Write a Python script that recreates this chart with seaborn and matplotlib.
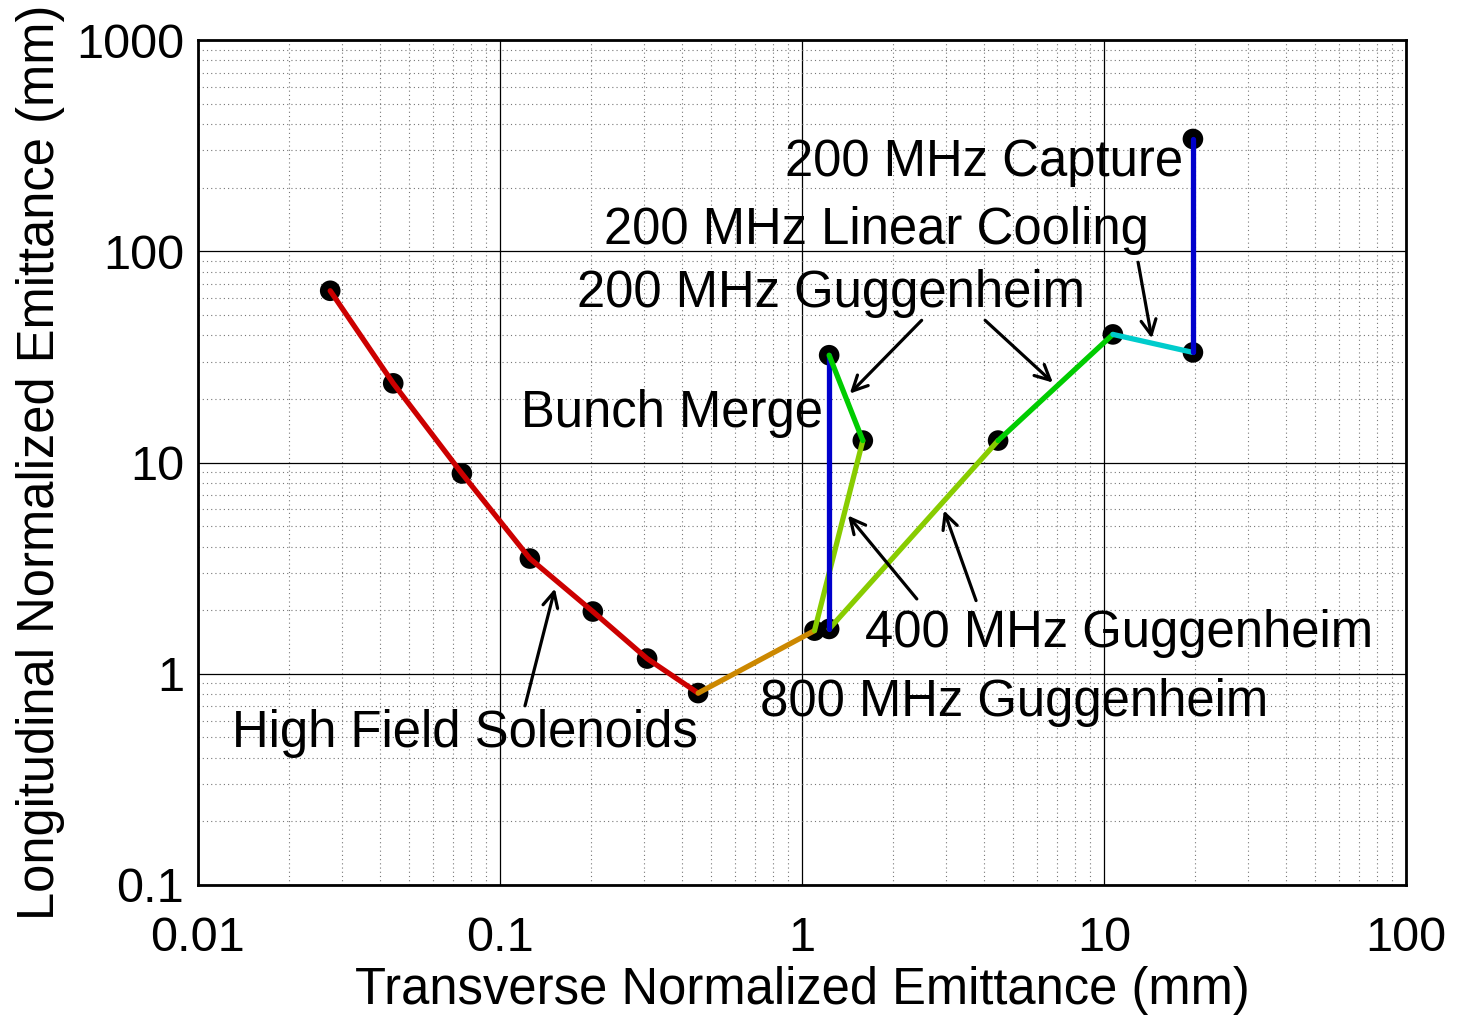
import numpy as np
import pandas as pd
import matplotlib
matplotlib.use("Agg")
import matplotlib.pyplot as plt
import seaborn as sns
from matplotlib.ticker import FixedLocator, FixedFormatter, LogLocator, NullFormatter

sns.set_theme(style="white")
plt.rcParams['font.family'] = ['Liberation Sans', 'DejaVu Sans']
plt.rcParams['text.color'] = 'black'
plt.rcParams['axes.labelcolor'] = 'black'
plt.rcParams['xtick.color'] = 'black'
plt.rcParams['ytick.color'] = 'black'

# ---- data (transverse, longitudinal emittance in mm) ----
red_x = [0.0274, 0.0443, 0.0748, 0.1256, 0.203, 0.307, 0.453]
red_y = [65.0, 23.7, 8.87, 3.51, 1.97, 1.18, 0.81]
orange_x = [0.453, 1.10]
orange_y = [0.81, 1.60]
yg1_x = [1.10, 1.59]
yg1_y = [1.60, 12.7]
yg2_x = [1.23, 4.46]
yg2_y = [1.63, 12.7]
blue1_x = [1.23, 1.23]
blue1_y = [1.63, 32.2]
green1_x = [1.23, 1.59]
green1_y = [32.2, 12.7]
green2_x = [4.46, 10.7]
green2_y = [12.7, 40.4]
cyan_x = [10.7, 19.7]
cyan_y = [40.4, 33.2]
blue2_x = [19.7, 19.7]
blue2_y = [33.2, 340.0]

pts_x = red_x + [1.10, 1.23, 1.23, 1.59, 4.46, 10.7, 19.7, 19.7]
pts_y = red_y + [1.60, 1.63, 32.2, 12.7, 12.7, 40.4, 33.2, 340.0]

segments = [
    (red_x, red_y, "#cc0000"),
    (orange_x, orange_y, "#cc8800"),
    (yg1_x, yg1_y, "#88cc00"),
    (yg2_x, yg2_y, "#88cc00"),
    (blue1_x, blue1_y, "#0000cc"),
    (green1_x, green1_y, "#00cc00"),
    (green2_x, green2_y, "#00cc00"),
    (cyan_x, cyan_y, "#00cccc"),
    (blue2_x, blue2_y, "#0000cc"),
]

x_ticks = [0.01, 0.1, 1, 10, 100]
x_tick_labels = ["0.01", "0.1", "1", "10", "100"]
y_ticks = [0.1, 1, 10, 100, 1000]
y_tick_labels = ["0.1", "1", "10", "100", "1000"]

# annotations: (text, text position, list of (tail, head))
labels = [
    ("High Field Solenoids", (0.01297, 0.52), [((0.121, 0.705), (0.152, 2.53))]),
    ("200 MHz Guggenheim", (0.180, 63.2), [((2.49, 47.1), (1.44, 21.2)),
                                           ((4.04, 47.1), (6.77, 23.9))]),
    ("200 MHz Linear Cooling", (0.221, 125.9), [((12.97, 88.7), (14.4, 38.7))]),
    ("200 MHz Capture", (0.879, 264.0), []),
    ("Bunch Merge", (0.1175, 17.1), []),
    ("400 MHz Guggenheim", (1.62, 1.55), [((2.40, 2.26), (1.42, 5.61)),
                                          ((3.77, 2.22), (2.95, 5.93))]),
    ("800 MHz Guggenheim", (0.726, 0.73), []),
]

fig = plt.figure(figsize=(14.57, 10.18), dpi=100)
ax = fig.add_axes([198/1457, 1-885/1018, (1406-198)/1457, (885-40)/1018])

ax.set_xscale("log")
ax.set_yscale("log")
ax.set_xlim(0.01, 100)
ax.set_ylim(0.1, 1000)

# grids
ax.xaxis.set_minor_locator(LogLocator(base=10, subs=np.arange(2, 10)))
ax.yaxis.set_minor_locator(LogLocator(base=10, subs=np.arange(2, 10)))
ax.xaxis.set_minor_formatter(NullFormatter())
ax.yaxis.set_minor_formatter(NullFormatter())
ax.grid(True, which="major", color="black", linewidth=0.9, linestyle="-", zorder=0)
ax.grid(True, which="minor", color="#777777", linewidth=0.8, linestyle=(0, (1, 2.8)), zorder=0)
ax.set_axisbelow(True)

# points
sns.scatterplot(x=pts_x, y=pts_y, color="black", s=220, edgecolor="none", zorder=3, ax=ax)

# lines
for xs, ys, col in segments:
    df = pd.DataFrame({"x": xs, "y": ys})
    sns.lineplot(data=df, x="x", y="y", color=col, linewidth=3.8, sort=False,
                 estimator=None, zorder=4, ax=ax)

# annotations
for text, pos, arrows in labels:
    ax.text(pos[0], pos[1], text, fontsize=36.6, ha="left", va="center", zorder=5,
            color="black")
    for tail, head in arrows:
        ax.annotate("", xy=head, xytext=tail,
                    arrowprops=dict(arrowstyle="->,head_length=0.9,head_width=0.45",
                                    color="black", lw=2.3, shrinkA=0, shrinkB=0),
                    zorder=5)

ax.xaxis.set_major_locator(FixedLocator(x_ticks))
ax.xaxis.set_major_formatter(FixedFormatter(x_tick_labels))
ax.yaxis.set_major_locator(FixedLocator(y_ticks))
ax.yaxis.set_major_formatter(FixedFormatter(y_tick_labels))
ax.tick_params(axis="both", which="major", labelsize=35, direction="in", length=8,
               width=1, color="black")
ax.tick_params(axis="x", which="major", pad=22)
ax.tick_params(axis="y", which="major", pad=10)
ax.tick_params(axis="both", which="minor", length=0)

for s in ax.spines.values():
    s.set_color("black")
    s.set_linewidth(2)

ax.set_xlabel("Transverse Normalized Emittance (mm)", fontsize=36.5, labelpad=4)
ax.set_ylabel("Longitudinal Normalized Emittance (mm)", fontsize=36.5, labelpad=8)

fig.savefig("out.png", dpi=100)
